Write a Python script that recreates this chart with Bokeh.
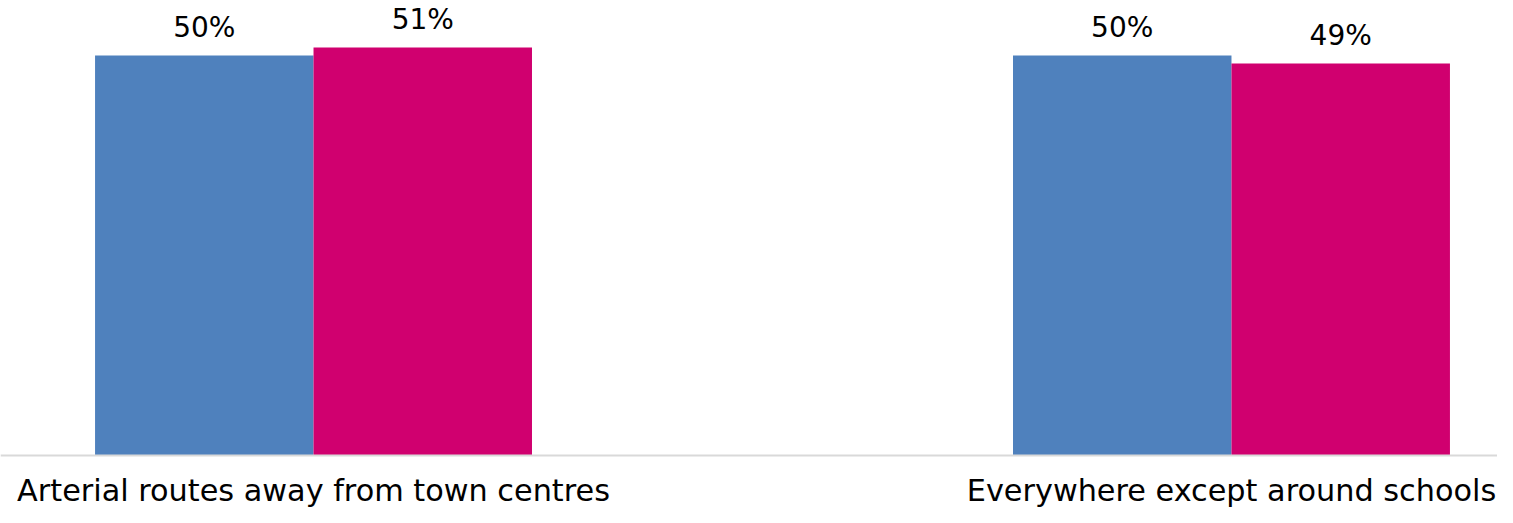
from bokeh.plotting import figure
from bokeh.models import ColumnDataSource, Range1d, Span
from bokeh.transform import dodge
from bokeh.core.properties import value
from bokeh.embed import file_html
from bokeh.resources import INLINE

categories = ["Arterial routes away from town centres", "Everywhere except around schools"]
series_1 = [50, 50]
series_2 = [51, 49]

FONT = "DejaVu Sans"
idx = list(range(len(categories)))
src = ColumnDataSource(dict(
    x=idx,
    s1=series_1,
    s2=series_2,
    l1=[f"{v}%" for v in series_1],
    l2=[f"{v}%" for v in series_2],
    cat=categories,
    zero=[0] * len(categories),
))

p = figure(width=1497, height=507, output_backend="svg", toolbar_location=None,
           x_range=Range1d(-0.341, 1.2898), y_range=Range1d(-6.5, 56.875),
           min_border_left=0, min_border_right=0, min_border_top=0, min_border_bottom=0)
p.outline_line_color = None
p.background_fill_color = "white"
p.border_fill_color = "white"
p.grid.visible = False
p.axis.visible = False

bw = 0.238
p.vbar(x=dodge("x", -bw / 2, range=p.x_range), top="s1", width=bw, source=src,
       fill_color="#4F81BD", line_color=None)
p.vbar(x=dodge("x", bw / 2, range=p.x_range), top="s2", width=bw, source=src,
       fill_color="#D0006F", line_color=None)

# category axis baseline
p.add_layout(Span(location=0, dimension="width", line_color="#D9D9D9", line_width=2))

p.text(x=dodge("x", -bw / 2, range=p.x_range), y="s1", text="l1", source=src,
       text_align="center", text_baseline="alphabetic", y_offset=-28,
       text_font=value(FONT), text_font_size="28px", text_color="#000000")
p.text(x=dodge("x", bw / 2, range=p.x_range), y="s2", text="l2", source=src,
       text_align="center", text_baseline="alphabetic", y_offset=-28,
       text_font=value(FONT), text_font_size="28px", text_color="#000000")

# category labels
p.text(x="x", y="zero", text="cat", source=src,
       text_align="center", text_baseline="alphabetic", y_offset=35,
       text_font=value(FONT), text_font_size="30.3px", text_color="#000000")

open("out.html", "w").write(file_html(p, INLINE))
